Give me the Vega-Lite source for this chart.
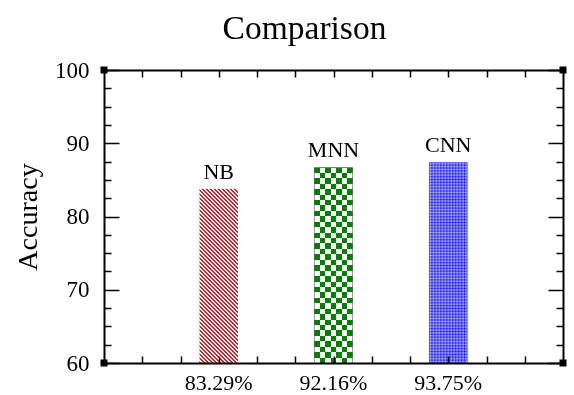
{
"$schema": "https://vega.github.io/schema/vega-lite/v6.json",
"width": 459, "height": 293,
"autosize": "none",
"padding": {"left": 104, "top": 70, "right": 11, "bottom": 32},
"background": "white",
"config": {"view": {"stroke": null}},
"title": {"text": "Comparison", "font": "Liberation Serif", "fontSize": 33.5, "fontWeight": "normal", "color": "black", "anchor": "middle", "dx": -29, "offset": 13},
"data": {"values": [
 {"model": "NB", "acc": 83.8, "rate": "83.29%"},
 {"model": "MNN", "acc": 86.7, "rate": "92.16%"},
 {"model": "CNN", "acc": 87.4, "rate": "93.75%"}
]},
"resolve": {"scale": {"x": "independent"}, "axis": {"x": "independent", "y": "independent"}},
"layer": [
 {
  "encoding": {"x": {"field": "model", "type": "nominal", "scale": {"type": "band", "domain": ["NB", "MNN", "CNN"], "paddingInner": 0.6645, "paddingOuter": 0.832}, "axis": null}},
  "layer": [
   {
    "transform": [{"filter": "datum.model === 'NB'"}],
    "mark": {"type": "bar", "fill": {"gradient": "linear", "x1": 0, "y1": 1, "x2": 0.2571, "y2": -0.1641, "stops": [
{"offset":0,"color":"#f5141c"},{"offset":0.0094,"color":"#f5141c"},{"offset":0.0094,"color":"#fff"},{"offset":0.0188,"color":"#fff"},
{"offset":0.0188,"color":"#f5141c"},{"offset":0.0282,"color":"#f5141c"},{"offset":0.0282,"color":"#fff"},{"offset":0.0376,"color":"#fff"},
{"offset":0.0376,"color":"#f5141c"},{"offset":0.047,"color":"#f5141c"},{"offset":0.047,"color":"#fff"},{"offset":0.0564,"color":"#fff"},
{"offset":0.0564,"color":"#f5141c"},{"offset":0.0658,"color":"#f5141c"},{"offset":0.0658,"color":"#fff"},{"offset":0.0752,"color":"#fff"},
{"offset":0.0752,"color":"#f5141c"},{"offset":0.0846,"color":"#f5141c"},{"offset":0.0846,"color":"#fff"},{"offset":0.094,"color":"#fff"},
{"offset":0.094,"color":"#f5141c"},{"offset":0.1034,"color":"#f5141c"},{"offset":0.1034,"color":"#fff"},{"offset":0.1128,"color":"#fff"},
{"offset":0.1128,"color":"#f5141c"},{"offset":0.1222,"color":"#f5141c"},{"offset":0.1222,"color":"#fff"},{"offset":0.1316,"color":"#fff"},
{"offset":0.1316,"color":"#f5141c"},{"offset":0.141,"color":"#f5141c"},{"offset":0.141,"color":"#fff"},{"offset":0.1503,"color":"#fff"},
{"offset":0.1503,"color":"#f5141c"},{"offset":0.1597,"color":"#f5141c"},{"offset":0.1597,"color":"#fff"},{"offset":0.1691,"color":"#fff"},
{"offset":0.1691,"color":"#f5141c"},{"offset":0.1785,"color":"#f5141c"},{"offset":0.1785,"color":"#fff"},{"offset":0.1879,"color":"#fff"},
{"offset":0.1879,"color":"#f5141c"},{"offset":0.1973,"color":"#f5141c"},{"offset":0.1973,"color":"#fff"},{"offset":0.2067,"color":"#fff"},
{"offset":0.2067,"color":"#f5141c"},{"offset":0.2161,"color":"#f5141c"},{"offset":0.2161,"color":"#fff"},{"offset":0.2255,"color":"#fff"},
{"offset":0.2255,"color":"#f5141c"},{"offset":0.2349,"color":"#f5141c"},{"offset":0.2349,"color":"#fff"},{"offset":0.2443,"color":"#fff"},
{"offset":0.2443,"color":"#f5141c"},{"offset":0.2537,"color":"#f5141c"},{"offset":0.2537,"color":"#fff"},{"offset":0.2631,"color":"#fff"},
{"offset":0.2631,"color":"#f5141c"},{"offset":0.2725,"color":"#f5141c"},{"offset":0.2725,"color":"#fff"},{"offset":0.2819,"color":"#fff"},
{"offset":0.2819,"color":"#f5141c"},{"offset":0.2913,"color":"#f5141c"},{"offset":0.2913,"color":"#fff"},{"offset":0.3007,"color":"#fff"},
{"offset":0.3007,"color":"#f5141c"},{"offset":0.3101,"color":"#f5141c"},{"offset":0.3101,"color":"#fff"},{"offset":0.3195,"color":"#fff"},
{"offset":0.3195,"color":"#f5141c"},{"offset":0.3289,"color":"#f5141c"},{"offset":0.3289,"color":"#fff"},{"offset":0.3383,"color":"#fff"},
{"offset":0.3383,"color":"#f5141c"},{"offset":0.3477,"color":"#f5141c"},{"offset":0.3477,"color":"#fff"},{"offset":0.3571,"color":"#fff"},
{"offset":0.3571,"color":"#f5141c"},{"offset":0.3665,"color":"#f5141c"},{"offset":0.3665,"color":"#fff"},{"offset":0.3759,"color":"#fff"},
{"offset":0.3759,"color":"#f5141c"},{"offset":0.3853,"color":"#f5141c"},{"offset":0.3853,"color":"#fff"},{"offset":0.3947,"color":"#fff"},
{"offset":0.3947,"color":"#f5141c"},{"offset":0.4041,"color":"#f5141c"},{"offset":0.4041,"color":"#fff"},{"offset":0.4135,"color":"#fff"},
{"offset":0.4135,"color":"#f5141c"},{"offset":0.4229,"color":"#f5141c"},{"offset":0.4229,"color":"#fff"},{"offset":0.4323,"color":"#fff"},
{"offset":0.4323,"color":"#f5141c"},{"offset":0.4417,"color":"#f5141c"},{"offset":0.4417,"color":"#fff"},{"offset":0.451,"color":"#fff"},
{"offset":0.451,"color":"#f5141c"},{"offset":0.4604,"color":"#f5141c"},{"offset":0.4604,"color":"#fff"},{"offset":0.4698,"color":"#fff"},
{"offset":0.4698,"color":"#f5141c"},{"offset":0.4792,"color":"#f5141c"},{"offset":0.4792,"color":"#fff"},{"offset":0.4886,"color":"#fff"},
{"offset":0.4886,"color":"#f5141c"},{"offset":0.498,"color":"#f5141c"},{"offset":0.498,"color":"#fff"},{"offset":0.5074,"color":"#fff"},
{"offset":0.5074,"color":"#f5141c"},{"offset":0.5168,"color":"#f5141c"},{"offset":0.5168,"color":"#fff"},{"offset":0.5262,"color":"#fff"},
{"offset":0.5262,"color":"#f5141c"},{"offset":0.5356,"color":"#f5141c"},{"offset":0.5356,"color":"#fff"},{"offset":0.545,"color":"#fff"},
{"offset":0.545,"color":"#f5141c"},{"offset":0.5544,"color":"#f5141c"},{"offset":0.5544,"color":"#fff"},{"offset":0.5638,"color":"#fff"},
{"offset":0.5638,"color":"#f5141c"},{"offset":0.5732,"color":"#f5141c"},{"offset":0.5732,"color":"#fff"},{"offset":0.5826,"color":"#fff"},
{"offset":0.5826,"color":"#f5141c"},{"offset":0.592,"color":"#f5141c"},{"offset":0.592,"color":"#fff"},{"offset":0.6014,"color":"#fff"},
{"offset":0.6014,"color":"#f5141c"},{"offset":0.6108,"color":"#f5141c"},{"offset":0.6108,"color":"#fff"},{"offset":0.6202,"color":"#fff"},
{"offset":0.6202,"color":"#f5141c"},{"offset":0.6296,"color":"#f5141c"},{"offset":0.6296,"color":"#fff"},{"offset":0.639,"color":"#fff"},
{"offset":0.639,"color":"#f5141c"},{"offset":0.6484,"color":"#f5141c"},{"offset":0.6484,"color":"#fff"},{"offset":0.6578,"color":"#fff"},
{"offset":0.6578,"color":"#f5141c"},{"offset":0.6672,"color":"#f5141c"},{"offset":0.6672,"color":"#fff"},{"offset":0.6766,"color":"#fff"},
{"offset":0.6766,"color":"#f5141c"},{"offset":0.686,"color":"#f5141c"},{"offset":0.686,"color":"#fff"},{"offset":0.6954,"color":"#fff"},
{"offset":0.6954,"color":"#f5141c"},{"offset":0.7048,"color":"#f5141c"},{"offset":0.7048,"color":"#fff"},{"offset":0.7142,"color":"#fff"},
{"offset":0.7142,"color":"#f5141c"},{"offset":0.7236,"color":"#f5141c"},{"offset":0.7236,"color":"#fff"},{"offset":0.733,"color":"#fff"},
{"offset":0.733,"color":"#f5141c"},{"offset":0.7424,"color":"#f5141c"},{"offset":0.7424,"color":"#fff"},{"offset":0.7517,"color":"#fff"},
{"offset":0.7517,"color":"#f5141c"},{"offset":0.7611,"color":"#f5141c"},{"offset":0.7611,"color":"#fff"},{"offset":0.7705,"color":"#fff"},
{"offset":0.7705,"color":"#f5141c"},{"offset":0.7799,"color":"#f5141c"},{"offset":0.7799,"color":"#fff"},{"offset":0.7893,"color":"#fff"},
{"offset":0.7893,"color":"#f5141c"},{"offset":0.7987,"color":"#f5141c"},{"offset":0.7987,"color":"#fff"},{"offset":0.8081,"color":"#fff"},
{"offset":0.8081,"color":"#f5141c"},{"offset":0.8175,"color":"#f5141c"},{"offset":0.8175,"color":"#fff"},{"offset":0.8269,"color":"#fff"},
{"offset":0.8269,"color":"#f5141c"},{"offset":0.8363,"color":"#f5141c"},{"offset":0.8363,"color":"#fff"},{"offset":0.8457,"color":"#fff"},
{"offset":0.8457,"color":"#f5141c"},{"offset":0.8551,"color":"#f5141c"},{"offset":0.8551,"color":"#fff"},{"offset":0.8645,"color":"#fff"},
{"offset":0.8645,"color":"#f5141c"},{"offset":0.8739,"color":"#f5141c"},{"offset":0.8739,"color":"#fff"},{"offset":0.8833,"color":"#fff"},
{"offset":0.8833,"color":"#f5141c"},{"offset":0.8927,"color":"#f5141c"},{"offset":0.8927,"color":"#fff"},{"offset":0.9021,"color":"#fff"},
{"offset":0.9021,"color":"#f5141c"},{"offset":0.9115,"color":"#f5141c"},{"offset":0.9115,"color":"#fff"},{"offset":0.9209,"color":"#fff"},
{"offset":0.9209,"color":"#f5141c"},{"offset":0.9303,"color":"#f5141c"},{"offset":0.9303,"color":"#fff"},{"offset":0.9397,"color":"#fff"},
{"offset":0.9397,"color":"#f5141c"},{"offset":0.9491,"color":"#f5141c"},{"offset":0.9491,"color":"#fff"},{"offset":0.9585,"color":"#fff"},
{"offset":0.9585,"color":"#f5141c"},{"offset":0.9679,"color":"#f5141c"},{"offset":0.9679,"color":"#fff"},{"offset":0.9773,"color":"#fff"},
{"offset":0.9773,"color":"#f5141c"},{"offset":0.9867,"color":"#f5141c"},{"offset":0.9867,"color":"#fff"},{"offset":0.9961,"color":"#fff"},
{"offset":0.9961,"color":"#f5141c"},{"offset":1,"color":"#f5141c"}
    ]}},
    "encoding": {"y": {"field": "acc", "type": "quantitative", "scale": {"domain": [60, 100], "nice": false, "zero": false}, "axis": null}, "y2": {"datum": 60}}
   },
   {
    "transform": [{"filter": "datum.model === 'MNN'"}],
    "mark": {"type": "bar", "fill": {"gradient": "linear", "x1": 0, "y1": 0, "x2": 1, "y2": 0, "stops": [
{"offset":0,"color":"#ff7dff"},{"offset":0.1429,"color":"#ff7dff"},{"offset":0.1429,"color":"#000"},{"offset":0.2857,"color":"#000"},
{"offset":0.2857,"color":"#ff7dff"},{"offset":0.4286,"color":"#ff7dff"},{"offset":0.4286,"color":"#000"},{"offset":0.5714,"color":"#000"},
{"offset":0.5714,"color":"#ff7dff"},{"offset":0.7143,"color":"#ff7dff"},{"offset":0.7143,"color":"#000"},{"offset":0.8571,"color":"#000"},
{"offset":0.8571,"color":"#ff7dff"},{"offset":1,"color":"#ff7dff"}
    ]}},
    "encoding": {"y": {"field": "acc", "type": "quantitative", "scale": {"domain": [60, 100], "nice": false, "zero": false}, "axis": null}, "y2": {"datum": 60}}
   },
   {
    "transform": [{"filter": "datum.model === 'MNN'"}],
    "mark": {"type": "bar", "blend": "difference", "fill": {"gradient": "linear", "x1": 0, "y1": 0, "x2": 0, "y2": 1, "stops": [
{"offset":0,"color":"#000"},{"offset":0.0278,"color":"#000"},{"offset":0.0278,"color":"#ff7dff"},{"offset":0.0556,"color":"#ff7dff"},
{"offset":0.0556,"color":"#000"},{"offset":0.0833,"color":"#000"},{"offset":0.0833,"color":"#ff7dff"},{"offset":0.1111,"color":"#ff7dff"},
{"offset":0.1111,"color":"#000"},{"offset":0.1389,"color":"#000"},{"offset":0.1389,"color":"#ff7dff"},{"offset":0.1667,"color":"#ff7dff"},
{"offset":0.1667,"color":"#000"},{"offset":0.1944,"color":"#000"},{"offset":0.1944,"color":"#ff7dff"},{"offset":0.2222,"color":"#ff7dff"},
{"offset":0.2222,"color":"#000"},{"offset":0.25,"color":"#000"},{"offset":0.25,"color":"#ff7dff"},{"offset":0.2778,"color":"#ff7dff"},
{"offset":0.2778,"color":"#000"},{"offset":0.3056,"color":"#000"},{"offset":0.3056,"color":"#ff7dff"},{"offset":0.3333,"color":"#ff7dff"},
{"offset":0.3333,"color":"#000"},{"offset":0.3611,"color":"#000"},{"offset":0.3611,"color":"#ff7dff"},{"offset":0.3889,"color":"#ff7dff"},
{"offset":0.3889,"color":"#000"},{"offset":0.4167,"color":"#000"},{"offset":0.4167,"color":"#ff7dff"},{"offset":0.4444,"color":"#ff7dff"},
{"offset":0.4444,"color":"#000"},{"offset":0.4722,"color":"#000"},{"offset":0.4722,"color":"#ff7dff"},{"offset":0.5,"color":"#ff7dff"},
{"offset":0.5,"color":"#000"},{"offset":0.5278,"color":"#000"},{"offset":0.5278,"color":"#ff7dff"},{"offset":0.5556,"color":"#ff7dff"},
{"offset":0.5556,"color":"#000"},{"offset":0.5833,"color":"#000"},{"offset":0.5833,"color":"#ff7dff"},{"offset":0.6111,"color":"#ff7dff"},
{"offset":0.6111,"color":"#000"},{"offset":0.6389,"color":"#000"},{"offset":0.6389,"color":"#ff7dff"},{"offset":0.6667,"color":"#ff7dff"},
{"offset":0.6667,"color":"#000"},{"offset":0.6944,"color":"#000"},{"offset":0.6944,"color":"#ff7dff"},{"offset":0.7222,"color":"#ff7dff"},
{"offset":0.7222,"color":"#000"},{"offset":0.75,"color":"#000"},{"offset":0.75,"color":"#ff7dff"},{"offset":0.7778,"color":"#ff7dff"},
{"offset":0.7778,"color":"#000"},{"offset":0.8056,"color":"#000"},{"offset":0.8056,"color":"#ff7dff"},{"offset":0.8333,"color":"#ff7dff"},
{"offset":0.8333,"color":"#000"},{"offset":0.8611,"color":"#000"},{"offset":0.8611,"color":"#ff7dff"},{"offset":0.8889,"color":"#ff7dff"},
{"offset":0.8889,"color":"#000"},{"offset":0.9167,"color":"#000"},{"offset":0.9167,"color":"#ff7dff"},{"offset":0.9444,"color":"#ff7dff"},
{"offset":0.9444,"color":"#000"},{"offset":0.9722,"color":"#000"},{"offset":0.9722,"color":"#ff7dff"},{"offset":1,"color":"#ff7dff"}
    ]}},
    "encoding": {"y": {"field": "acc", "type": "quantitative", "scale": {"domain": [60, 100], "nice": false, "zero": false}, "axis": null}, "y2": {"datum": 60}}
   },
   {
    "transform": [{"filter": "datum.model === 'MNN'"}],
    "mark": {"type": "bar", "blend": "difference", "fill": "#ffffff"},
    "encoding": {"y": {"field": "acc", "type": "quantitative", "scale": {"domain": [60, 100], "nice": false, "zero": false}, "axis": null}, "y2": {"datum": 60}}
   },
   {
    "transform": [{"filter": "datum.model === 'CNN'"}],
    "mark": {"type": "bar", "fill": "#0000ff"},
    "encoding": {"y": {"field": "acc", "type": "quantitative", "scale": {"domain": [60, 100], "nice": false, "zero": false}, "axis": null}, "y2": {"datum": 60}}
   },
   {
    "transform": [{"filter": "datum.model === 'CNN'"}],
    "mark": {"type": "bar", "fill": {"gradient": "linear", "x1": 0, "y1": 0, "x2": 1, "y2": 0, "stops": [
{"offset":0,"color":"rgba(255,255,255,0)"},{"offset":0.0385,"color":"rgba(255,255,255,0.45)"},{"offset":0.0769,"color":"rgba(255,255,255,0)"},{"offset":0.1154,"color":"rgba(255,255,255,0.45)"},
{"offset":0.1538,"color":"rgba(255,255,255,0)"},{"offset":0.1923,"color":"rgba(255,255,255,0.45)"},{"offset":0.2308,"color":"rgba(255,255,255,0)"},{"offset":0.2692,"color":"rgba(255,255,255,0.45)"},
{"offset":0.3077,"color":"rgba(255,255,255,0)"},{"offset":0.3462,"color":"rgba(255,255,255,0.45)"},{"offset":0.3846,"color":"rgba(255,255,255,0)"},{"offset":0.4231,"color":"rgba(255,255,255,0.45)"},
{"offset":0.4615,"color":"rgba(255,255,255,0)"},{"offset":0.5,"color":"rgba(255,255,255,0.45)"},{"offset":0.5385,"color":"rgba(255,255,255,0)"},{"offset":0.5769,"color":"rgba(255,255,255,0.45)"},
{"offset":0.6154,"color":"rgba(255,255,255,0)"},{"offset":0.6538,"color":"rgba(255,255,255,0.45)"},{"offset":0.6923,"color":"rgba(255,255,255,0)"},{"offset":0.7308,"color":"rgba(255,255,255,0.45)"},
{"offset":0.7692,"color":"rgba(255,255,255,0)"},{"offset":0.8077,"color":"rgba(255,255,255,0.45)"},{"offset":0.8462,"color":"rgba(255,255,255,0)"},{"offset":0.8846,"color":"rgba(255,255,255,0.45)"},
{"offset":0.9231,"color":"rgba(255,255,255,0)"},{"offset":0.9615,"color":"rgba(255,255,255,0.45)"},{"offset":1,"color":"rgba(255,255,255,0)"}
    ]}},
    "encoding": {"y": {"field": "acc", "type": "quantitative", "scale": {"domain": [60, 100], "nice": false, "zero": false}, "axis": null}, "y2": {"datum": 60}}
   },
   {
    "transform": [{"filter": "datum.model === 'CNN'"}],
    "mark": {"type": "bar", "fill": {"gradient": "linear", "x1": 0, "y1": 0, "x2": 0, "y2": 1, "stops": [
{"offset":0,"color":"rgba(255,255,255,0)"},{"offset":0.0071,"color":"rgba(255,255,255,0.45)"},{"offset":0.0143,"color":"rgba(255,255,255,0)"},{"offset":0.0214,"color":"rgba(255,255,255,0.45)"},
{"offset":0.0286,"color":"rgba(255,255,255,0)"},{"offset":0.0357,"color":"rgba(255,255,255,0.45)"},{"offset":0.0429,"color":"rgba(255,255,255,0)"},{"offset":0.05,"color":"rgba(255,255,255,0.45)"},
{"offset":0.0571,"color":"rgba(255,255,255,0)"},{"offset":0.0643,"color":"rgba(255,255,255,0.45)"},{"offset":0.0714,"color":"rgba(255,255,255,0)"},{"offset":0.0786,"color":"rgba(255,255,255,0.45)"},
{"offset":0.0857,"color":"rgba(255,255,255,0)"},{"offset":0.0929,"color":"rgba(255,255,255,0.45)"},{"offset":0.1,"color":"rgba(255,255,255,0)"},{"offset":0.1071,"color":"rgba(255,255,255,0.45)"},
{"offset":0.1143,"color":"rgba(255,255,255,0)"},{"offset":0.1214,"color":"rgba(255,255,255,0.45)"},{"offset":0.1286,"color":"rgba(255,255,255,0)"},{"offset":0.1357,"color":"rgba(255,255,255,0.45)"},
{"offset":0.1429,"color":"rgba(255,255,255,0)"},{"offset":0.15,"color":"rgba(255,255,255,0.45)"},{"offset":0.1571,"color":"rgba(255,255,255,0)"},{"offset":0.1643,"color":"rgba(255,255,255,0.45)"},
{"offset":0.1714,"color":"rgba(255,255,255,0)"},{"offset":0.1786,"color":"rgba(255,255,255,0.45)"},{"offset":0.1857,"color":"rgba(255,255,255,0)"},{"offset":0.1929,"color":"rgba(255,255,255,0.45)"},
{"offset":0.2,"color":"rgba(255,255,255,0)"},{"offset":0.2071,"color":"rgba(255,255,255,0.45)"},{"offset":0.2143,"color":"rgba(255,255,255,0)"},{"offset":0.2214,"color":"rgba(255,255,255,0.45)"},
{"offset":0.2286,"color":"rgba(255,255,255,0)"},{"offset":0.2357,"color":"rgba(255,255,255,0.45)"},{"offset":0.2429,"color":"rgba(255,255,255,0)"},{"offset":0.25,"color":"rgba(255,255,255,0.45)"},
{"offset":0.2571,"color":"rgba(255,255,255,0)"},{"offset":0.2643,"color":"rgba(255,255,255,0.45)"},{"offset":0.2714,"color":"rgba(255,255,255,0)"},{"offset":0.2786,"color":"rgba(255,255,255,0.45)"},
{"offset":0.2857,"color":"rgba(255,255,255,0)"},{"offset":0.2929,"color":"rgba(255,255,255,0.45)"},{"offset":0.3,"color":"rgba(255,255,255,0)"},{"offset":0.3071,"color":"rgba(255,255,255,0.45)"},
{"offset":0.3143,"color":"rgba(255,255,255,0)"},{"offset":0.3214,"color":"rgba(255,255,255,0.45)"},{"offset":0.3286,"color":"rgba(255,255,255,0)"},{"offset":0.3357,"color":"rgba(255,255,255,0.45)"},
{"offset":0.3429,"color":"rgba(255,255,255,0)"},{"offset":0.35,"color":"rgba(255,255,255,0.45)"},{"offset":0.3571,"color":"rgba(255,255,255,0)"},{"offset":0.3643,"color":"rgba(255,255,255,0.45)"},
{"offset":0.3714,"color":"rgba(255,255,255,0)"},{"offset":0.3786,"color":"rgba(255,255,255,0.45)"},{"offset":0.3857,"color":"rgba(255,255,255,0)"},{"offset":0.3929,"color":"rgba(255,255,255,0.45)"},
{"offset":0.4,"color":"rgba(255,255,255,0)"},{"offset":0.4071,"color":"rgba(255,255,255,0.45)"},{"offset":0.4143,"color":"rgba(255,255,255,0)"},{"offset":0.4214,"color":"rgba(255,255,255,0.45)"},
{"offset":0.4286,"color":"rgba(255,255,255,0)"},{"offset":0.4357,"color":"rgba(255,255,255,0.45)"},{"offset":0.4429,"color":"rgba(255,255,255,0)"},{"offset":0.45,"color":"rgba(255,255,255,0.45)"},
{"offset":0.4571,"color":"rgba(255,255,255,0)"},{"offset":0.4643,"color":"rgba(255,255,255,0.45)"},{"offset":0.4714,"color":"rgba(255,255,255,0)"},{"offset":0.4786,"color":"rgba(255,255,255,0.45)"},
{"offset":0.4857,"color":"rgba(255,255,255,0)"},{"offset":0.4929,"color":"rgba(255,255,255,0.45)"},{"offset":0.5,"color":"rgba(255,255,255,0)"},{"offset":0.5071,"color":"rgba(255,255,255,0.45)"},
{"offset":0.5143,"color":"rgba(255,255,255,0)"},{"offset":0.5214,"color":"rgba(255,255,255,0.45)"},{"offset":0.5286,"color":"rgba(255,255,255,0)"},{"offset":0.5357,"color":"rgba(255,255,255,0.45)"},
{"offset":0.5429,"color":"rgba(255,255,255,0)"},{"offset":0.55,"color":"rgba(255,255,255,0.45)"},{"offset":0.5571,"color":"rgba(255,255,255,0)"},{"offset":0.5643,"color":"rgba(255,255,255,0.45)"},
{"offset":0.5714,"color":"rgba(255,255,255,0)"},{"offset":0.5786,"color":"rgba(255,255,255,0.45)"},{"offset":0.5857,"color":"rgba(255,255,255,0)"},{"offset":0.5929,"color":"rgba(255,255,255,0.45)"},
{"offset":0.6,"color":"rgba(255,255,255,0)"},{"offset":0.6071,"color":"rgba(255,255,255,0.45)"},{"offset":0.6143,"color":"rgba(255,255,255,0)"},{"offset":0.6214,"color":"rgba(255,255,255,0.45)"},
{"offset":0.6286,"color":"rgba(255,255,255,0)"},{"offset":0.6357,"color":"rgba(255,255,255,0.45)"},{"offset":0.6429,"color":"rgba(255,255,255,0)"},{"offset":0.65,"color":"rgba(255,255,255,0.45)"},
{"offset":0.6571,"color":"rgba(255,255,255,0)"},{"offset":0.6643,"color":"rgba(255,255,255,0.45)"},{"offset":0.6714,"color":"rgba(255,255,255,0)"},{"offset":0.6786,"color":"rgba(255,255,255,0.45)"},
{"offset":0.6857,"color":"rgba(255,255,255,0)"},{"offset":0.6929,"color":"rgba(255,255,255,0.45)"},{"offset":0.7,"color":"rgba(255,255,255,0)"},{"offset":0.7071,"color":"rgba(255,255,255,0.45)"},
{"offset":0.7143,"color":"rgba(255,255,255,0)"},{"offset":0.7214,"color":"rgba(255,255,255,0.45)"},{"offset":0.7286,"color":"rgba(255,255,255,0)"},{"offset":0.7357,"color":"rgba(255,255,255,0.45)"},
{"offset":0.7429,"color":"rgba(255,255,255,0)"},{"offset":0.75,"color":"rgba(255,255,255,0.45)"},{"offset":0.7571,"color":"rgba(255,255,255,0)"},{"offset":0.7643,"color":"rgba(255,255,255,0.45)"},
{"offset":0.7714,"color":"rgba(255,255,255,0)"},{"offset":0.7786,"color":"rgba(255,255,255,0.45)"},{"offset":0.7857,"color":"rgba(255,255,255,0)"},{"offset":0.7929,"color":"rgba(255,255,255,0.45)"},
{"offset":0.8,"color":"rgba(255,255,255,0)"},{"offset":0.8071,"color":"rgba(255,255,255,0.45)"},{"offset":0.8143,"color":"rgba(255,255,255,0)"},{"offset":0.8214,"color":"rgba(255,255,255,0.45)"},
{"offset":0.8286,"color":"rgba(255,255,255,0)"},{"offset":0.8357,"color":"rgba(255,255,255,0.45)"},{"offset":0.8429,"color":"rgba(255,255,255,0)"},{"offset":0.85,"color":"rgba(255,255,255,0.45)"},
{"offset":0.8571,"color":"rgba(255,255,255,0)"},{"offset":0.8643,"color":"rgba(255,255,255,0.45)"},{"offset":0.8714,"color":"rgba(255,255,255,0)"},{"offset":0.8786,"color":"rgba(255,255,255,0.45)"},
{"offset":0.8857,"color":"rgba(255,255,255,0)"},{"offset":0.8929,"color":"rgba(255,255,255,0.45)"},{"offset":0.9,"color":"rgba(255,255,255,0)"},{"offset":0.9071,"color":"rgba(255,255,255,0.45)"},
{"offset":0.9143,"color":"rgba(255,255,255,0)"},{"offset":0.9214,"color":"rgba(255,255,255,0.45)"},{"offset":0.9286,"color":"rgba(255,255,255,0)"},{"offset":0.9357,"color":"rgba(255,255,255,0.45)"},
{"offset":0.9429,"color":"rgba(255,255,255,0)"},{"offset":0.95,"color":"rgba(255,255,255,0.45)"},{"offset":0.9571,"color":"rgba(255,255,255,0)"},{"offset":0.9643,"color":"rgba(255,255,255,0.45)"},
{"offset":0.9714,"color":"rgba(255,255,255,0)"},{"offset":0.9786,"color":"rgba(255,255,255,0.45)"},{"offset":0.9857,"color":"rgba(255,255,255,0)"},{"offset":0.9929,"color":"rgba(255,255,255,0.45)"},
{"offset":1,"color":"rgba(255,255,255,0)"}
    ]}},
    "encoding": {"y": {"field": "acc", "type": "quantitative", "scale": {"domain": [60, 100], "nice": false, "zero": false}, "axis": null}, "y2": {"datum": 60}}
   },
   {
    "mark": {"type": "text", "font": "Liberation Serif", "fontSize": 22, "color": "black", "baseline": "alphabetic", "dy": -10},
    "encoding": {"y": {"field": "acc", "type": "quantitative", "scale": {"domain": [60, 100], "nice": false, "zero": false}, "axis": null}, "text": {"field": "model"}}
   },
   {
    "mark": {"type": "text", "font": "Liberation Serif", "fontSize": 22, "color": "black", "baseline": "alphabetic", "dy": 27},
    "encoding": {"y": {"datum": 60, "type": "quantitative", "scale": {"domain": [60, 100], "nice": false, "zero": false}, "axis": null}, "text": {"field": "rate"}}
   }
  ]
 },
 {
  "data": {"values": [{}]},
  "encoding": {
   "x": {"type": "quantitative", "scale": {"domain": [0, 12], "nice": false, "zero": false},
    "axis": {"orient": "bottom", "values": [1,2,3,4,5,6,7,8,9,10,11], "labels": false, "ticks": true, "tickSize": 0, "tickColor": "black", "tickWidth": 1.5,
     "domain": true, "domainColor": "black", "domainWidth": 2, "grid": false, "title": null, "zindex": 1,
     "encoding": {"ticks": {"y2": {"value": -7}}}}},
   "y": {"type": "quantitative", "scale": {"domain": [60, 100], "nice": false, "zero": false},
    "axis": {"orient": "right", "values": [60,62.5,65,67.5,70,72.5,75,77.5,80,82.5,85,87.5,90,92.5,95,97.5,100], "labels": false, "ticks": true, "tickSize": 0, "tickColor": "black", "tickWidth": 1.5,
     "domain": true, "domainColor": "black", "domainWidth": 2, "grid": false, "title": null, "zindex": 1,
     "encoding": {"ticks": {"x2": {"condition": {"test": "datum.value % 10 === 0", "value": -15}, "value": -7}}}}}
  },
  "layer": [
   {"mark": {"type": "point", "shape": "square", "filled": true, "size": 49, "color": "black", "opacity": 1}, "encoding": {"x": {"datum": 0}, "y": {"datum": 60}}},
   {"mark": {"type": "point", "shape": "square", "filled": true, "size": 49, "color": "black", "opacity": 1}, "encoding": {"x": {"datum": 0}, "y": {"datum": 100}}},
   {"mark": {"type": "point", "shape": "square", "filled": true, "size": 49, "color": "black", "opacity": 1}, "encoding": {"x": {"datum": 12}, "y": {"datum": 60}}},
   {"mark": {"type": "point", "shape": "square", "filled": true, "size": 49, "color": "black", "opacity": 1}, "encoding": {"x": {"datum": 12}, "y": {"datum": 100}}}
  ]
 },
 {
  "data": {"values": [{}]},
  "mark": {"type": "point", "opacity": 0},
  "encoding": {
   "x": {"datum": 0, "type": "quantitative", "scale": {"domain": [0, 12], "nice": false, "zero": false},
    "axis": {"orient": "top", "values": [1,2,3,4,5,6,7,8,9,10,11], "labels": false, "ticks": true, "tickSize": 0, "tickColor": "black", "tickWidth": 1.5,
     "domain": true, "domainColor": "black", "domainWidth": 2, "grid": false, "title": null, "zindex": 1,
     "encoding": {"ticks": {"y2": {"value": 7}}}}},
   "y": {"datum": 60, "type": "quantitative", "scale": {"domain": [60, 100], "nice": false, "zero": false},
    "axis": {"orient": "left", "values": [60,62.5,65,67.5,70,72.5,75,77.5,80,82.5,85,87.5,90,92.5,95,97.5,100],
     "labelExpr": "datum.value % 10 === 0 ? datum.label : ''", "labelOverlap": false, "labelFlush": false, "labelBound": false,
     "labelFont": "Liberation Serif", "labelFontSize": 23, "labelColor": "black", "labelPadding": 15,
     "ticks": true, "tickSize": 0, "tickColor": "black", "tickWidth": 1.5,
     "domain": true, "domainColor": "black", "domainWidth": 2, "grid": false,
     "title": "Accuracy", "titleFont": "Liberation Serif", "titleFontSize": 28, "titleFontWeight": "normal", "titleColor": "black", "titlePadding": 12,
     "zindex": 1,
     "encoding": {"ticks": {"x2": {"condition": {"test": "datum.value % 10 === 0", "value": 15}, "value": 7}}}}}
  }
 }
]
}
